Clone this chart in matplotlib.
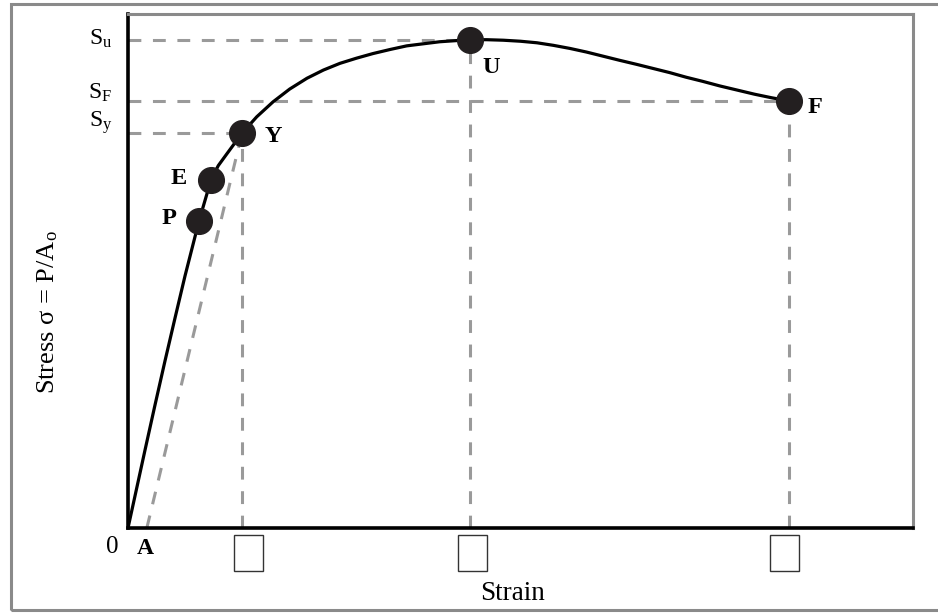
import matplotlib
matplotlib.use("Agg")
import matplotlib.pyplot as plt
from matplotlib.patches import Rectangle

plt.rcParams["font.family"] = ["Liberation Serif", "DejaVu Serif"]
plt.rcParams["mathtext.fontset"] = "custom"
plt.rcParams["mathtext.rm"] = "Liberation Serif"
plt.rcParams["mathtext.it"] = "Liberation Serif:italic"
plt.rcParams["mathtext.bf"] = "Liberation Serif:bold"

# ── stress-strain curve (arbitrary units, 0..100 on both axes) ────────────────
strain = [0.0, 0.89, 2.17, 3.44, 4.71, 5.99, 7.26, 9.04, 10.57, 11.5,
          12.5, 14.52, 16.4, 18.47, 20.6, 22.8, 24.9, 27.0, 29.1, 31.2,
          33.4, 35.5, 37.6, 39.7, 41.6, 43.57, 45.7, 47.8, 50.0, 52.1,
          54.2, 56.3, 58.4, 60.5, 62.6, 64.8, 66.9, 69.0, 71.1, 73.2,
          75.4, 77.6, 79.8, 82.0, 84.2]
stress = [0.0, 6.23, 15.18, 23.93, 32.49, 40.86, 49.03, 59.7, 67.7, 70.5,
          72.6, 76.8, 80.0, 82.9, 85.4, 87.5, 89.1, 90.4, 91.4, 92.3,
          93.1, 93.8, 94.2, 94.6, 94.8, 95.0, 95.0, 94.9, 94.7, 94.4,
          93.9, 93.3, 92.6, 91.8, 91.0, 90.2, 89.4, 88.6, 87.7, 86.9,
          86.0, 85.2, 84.4, 83.7, 83.1]

# named points on the curve
pt_names  = ["P", "E", "Y", "U", "F"]
pt_strain = [9.04, 10.57, 14.52, 43.57, 84.2]
pt_stress = [59.7, 67.7, 76.8, 95.0, 83.1]
pt_label_xy = [(5.2, 59.1), (6.5, 66.9), (18.5, 75.1), (46.3, 88.5), (87.5, 80.7)]

# offset line start
a_strain = 2.4

# stress levels shown on the y axis
lvl_names = [r"$\mathregular{S_u}$", r"$\mathregular{S_F}$", r"$\mathregular{S_y}$"]
lvl_pts   = ["U", "F", "Y"]
lvl_label_y = [94.0, 83.5, 78.0]

# empty tick-label boxes under Y, U, F
box_centers = [15.35, 43.9, 83.6]

DASH = "#9a9a9a"
DOT = "#231f20"

fig = plt.figure(figsize=(9.38, 6.13), dpi=100)
ax = fig.add_axes([128 / 938, 1 - 528 / 613, 785 / 938, 514 / 613])
ax.set_xlim(0, 100)
ax.set_ylim(0, 100)
ax.set_xticks([])
ax.set_yticks([])

for side in ("left", "bottom"):
    ax.spines[side].set_color("black")
    ax.spines[side].set_linewidth(2.6)
for side in ("top", "right"):
    ax.spines[side].set_color("#8a8a8a")
    ax.spines[side].set_linewidth(2.2)

dash_kw = dict(color=DASH, lw=2.2, dashes=(4.2, 3.8), zorder=1)

# guide lines from each named level back to the axes
for name in lvl_pts:
    i = pt_names.index(name)
    ax.plot([0, pt_strain[i]], [pt_stress[i], pt_stress[i]], **dash_kw)
    ax.plot([pt_strain[i], pt_strain[i]], [0, pt_stress[i]], **dash_kw)

# offset line A -> Y
iy = pt_names.index("Y")
ax.plot([a_strain, pt_strain[iy]], [0, pt_stress[iy]], **dash_kw)

ax.plot(strain, stress, color="black", lw=2.3, zorder=2,
        solid_capstyle="round", solid_joinstyle="round")
ax.plot(pt_strain, pt_stress, "o", color=DOT, ms=18.5, zorder=3)

for name, (tx, ty) in zip(pt_names, pt_label_xy):
    ax.text(tx, ty, name, fontsize=17.5, fontweight="bold", ha="center",
            va="baseline", clip_on=False)

for lab, ly in zip(lvl_names, lvl_label_y):
    ax.text(-2.0, ly, lab, fontsize=17, ha="right", va="baseline", clip_on=False)

ax.text(-1.97, -4.9, "0", fontsize=18, ha="center", va="baseline", clip_on=False)
ax.text(2.23, -5.06, "A", fontsize=17, fontweight="bold", ha="center",
        va="baseline", clip_on=False)

for cx in box_centers:
    ax.add_patch(Rectangle((cx - 1.85, -8.37), 3.7, 7.0, fill=False,
                           edgecolor="#333333", lw=1.0, clip_on=False))

ax.text(49.0, -14.0, "Strain", fontsize=19.5, ha="center", va="baseline", clip_on=False)
ax.text(-10.25, 42.0, r"Stress σ = P/A$\mathregular{_o}$", fontsize=19,
        rotation=90, ha="center", va="center", clip_on=False)

# outer frame (open on the right)
fig.patches.append(Rectangle((11 / 938, 1 - 609.5 / 613), 1.2, 606 / 613,
                             transform=fig.transFigure, fill=False,
                             edgecolor="#8a8a8a", lw=2.2))

fig.savefig("out.png", dpi=100)
